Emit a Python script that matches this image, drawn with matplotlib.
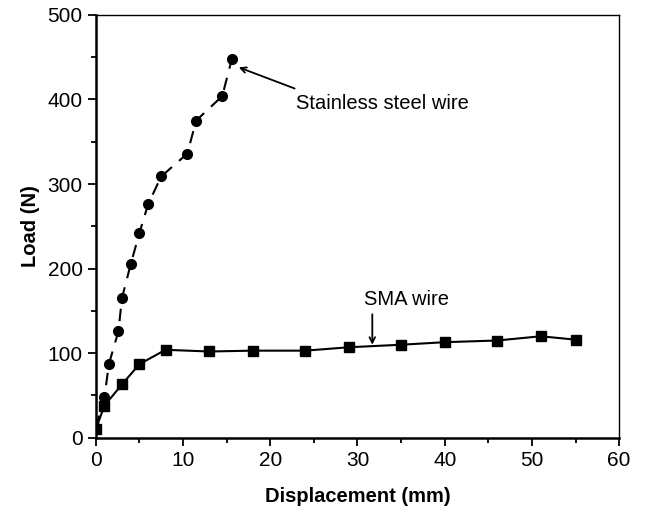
import matplotlib
matplotlib.use("Agg")
import matplotlib.pyplot as plt
from matplotlib.ticker import MultipleLocator

plt.rcParams['font.family'] = ['Liberation Sans', 'DejaVu Sans']

# load-displacement readings
steel_disp = [0.0, 1.0, 1.5, 2.6, 3.0, 4.0, 5.0, 6.0, 7.5, 10.5, 11.5, 14.5, 15.6]
steel_load = [12, 48, 87, 126, 165, 205, 242, 276, 309, 336, 375, 404, 448]

sma_disp = [0.0, 1.0, 3.0, 5.0, 8.0, 13.0, 18.0, 24.0, 29.0, 35.0, 40.0, 46.0, 51.0, 55.0]
sma_load = [10, 38, 63, 87, 104, 102, 103, 103, 107, 110, 113, 115, 120, 116]

fig = plt.figure(figsize=(6.47, 5.15), dpi=100)
ax = fig.add_axes([0.148, 0.150, 0.809, 0.821])

ax.plot(steel_disp, steel_load, color='black', linestyle=(0, (6, 4.5)), linewidth=1.5,
        marker='o', markersize=7, zorder=3)
ax.plot(sma_disp, sma_load, color='black', linestyle='-', linewidth=1.5,
        marker='s', markersize=6.5, zorder=3)

# labels with pointers
arrow = dict(arrowstyle='->', color='black', lw=1.3, shrinkA=0, shrinkB=0)
ax.annotate('', xy=(16.4, 438), xytext=(22.8, 413), arrowprops=arrow)
ax.text(23.0, 395, 'Stainless steel wire', fontsize=14.5, va='center', ha='left')
ax.annotate('', xy=(31.7, 110), xytext=(31.7, 146), arrowprops=arrow)
ax.text(30.8, 163, 'SMA wire', fontsize=14.5, va='center', ha='left')

ax.set_xlim(0, 60)
ax.set_ylim(0, 500)
ax.xaxis.set_major_locator(MultipleLocator(10))
ax.xaxis.set_minor_locator(MultipleLocator(5))
ax.yaxis.set_major_locator(MultipleLocator(100))
ax.yaxis.set_minor_locator(MultipleLocator(50))

ax.tick_params(which='both', direction='out', top=False, right=False,
               labelsize=15, width=1.3)
ax.tick_params(which='major', length=6)
ax.tick_params(which='minor', length=3.5)

ax.spines['left'].set_linewidth(1.8)
ax.spines['bottom'].set_linewidth(1.8)
ax.spines['top'].set_linewidth(1.0)
ax.spines['right'].set_linewidth(1.0)

ax.set_xlabel('Displacement (mm)', fontsize=14.5, fontweight='bold', labelpad=12)
ax.set_ylabel('Load (N)', fontsize=14.5, fontweight='bold', labelpad=5)

fig.savefig('out.png', dpi=100)
